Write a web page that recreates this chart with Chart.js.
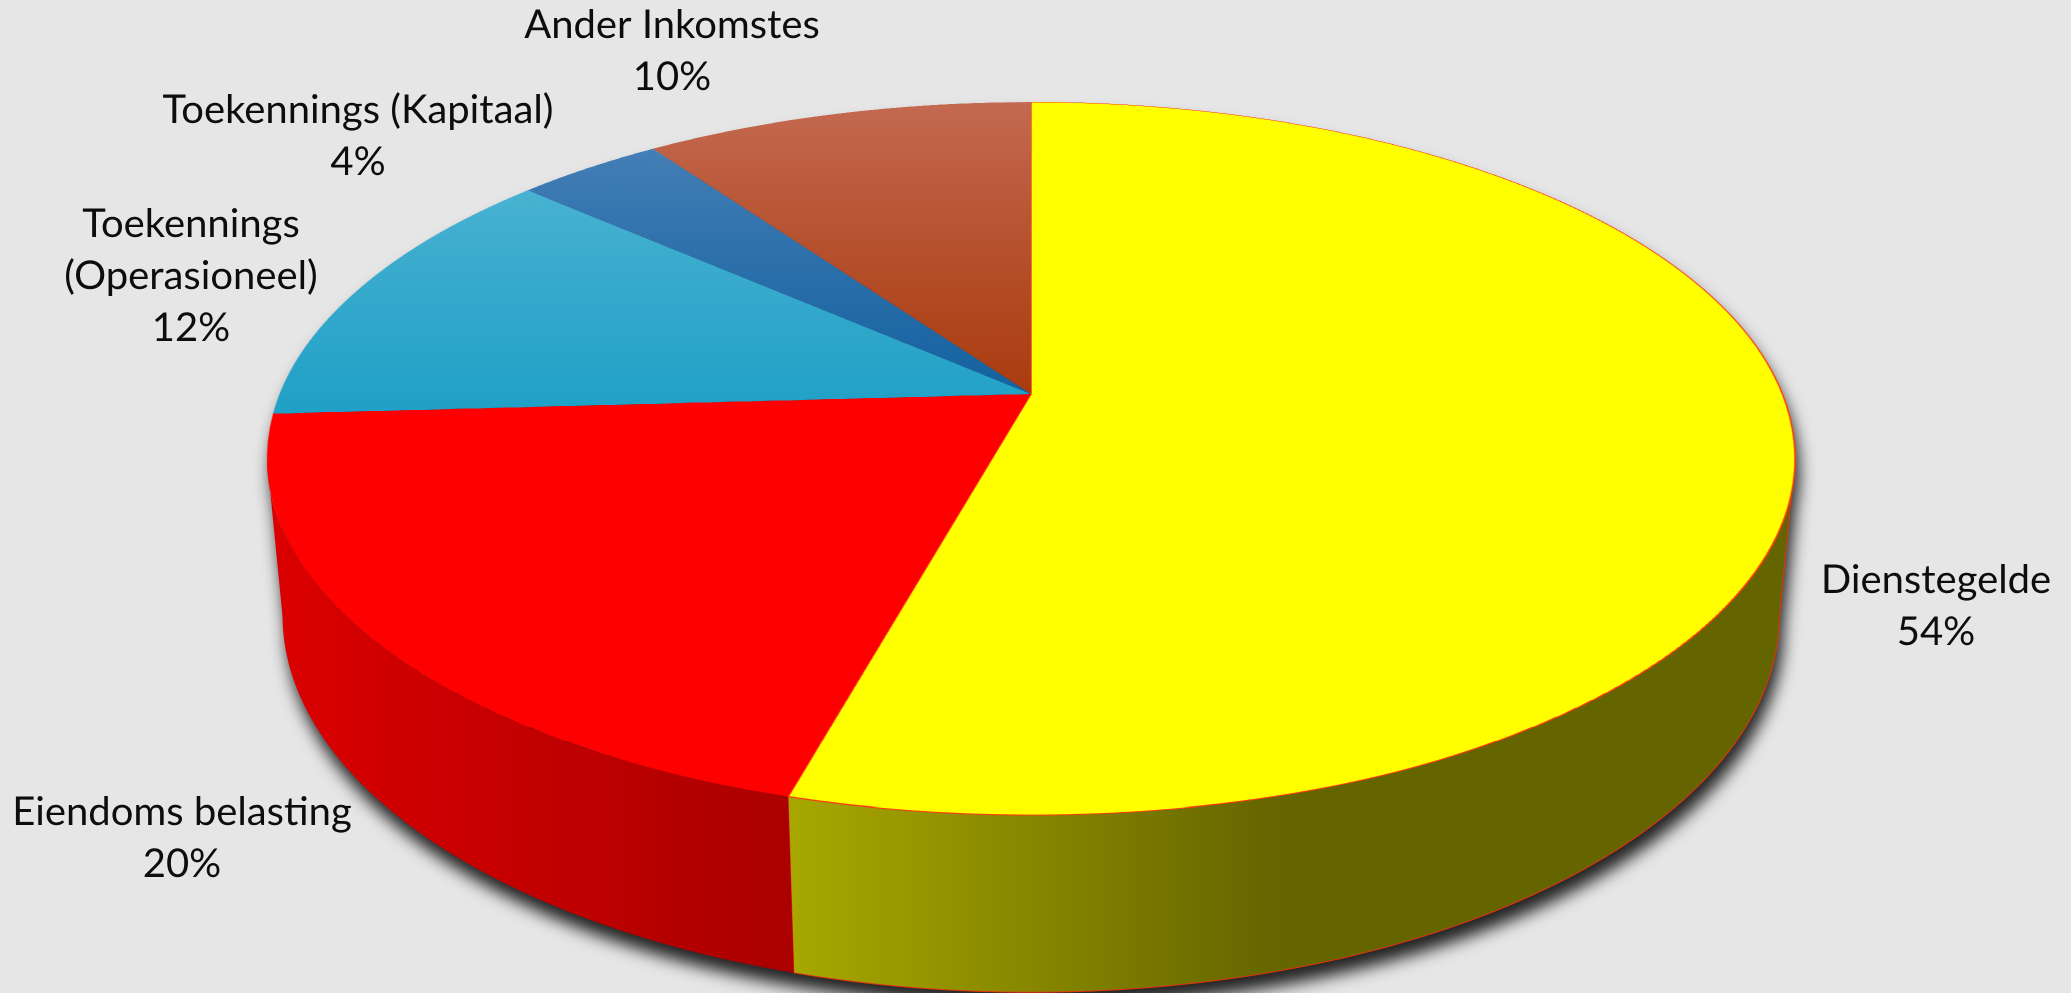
<!DOCTYPE html>
<html><head><meta charset="utf-8">
<script src="https://cdn.jsdelivr.net/npm/chart.js@4.4.1/dist/chart.umd.min.js"></script>
<style>html,body{margin:0;padding:0;background:#e6e6e6;overflow:hidden;}canvas{display:block;}</style>
</head><body>
<canvas id="c" width="2071" height="993"></canvas>
<script>
// ---- data ----
const categories = ['Dienstegelde', 'Eiendoms belasting', 'Toekennings (Operasioneel)', 'Toekennings (Kapitaal)', 'Ander Inkomstes'];
const shares = [54.3, 19.8, 12.4, 3.7, 9.8];

// ---- styles ----
const topLight = ['#ffff00', '#ff0000', '#5cbad6', '#4f85bb', '#c46a52'];
const topDark  = ['#ffff00', '#ff0000', '#1fa0c7', '#0f5f9e', '#a8380a'];
const borderCols = ['#ff3c10', '#ff0000', '#2aa5c9', '#1f6aa8', '#b44a26'];
const borderWidths = [1, 0, 0, 0, 0];
const wallStops = [
  [[0, '#a8a800'], [0.48, '#666600'], [1, '#646400']],
  [[0, '#dc0000'], [1, '#aa0000']],
  [[0, '#1a8ab0'], [1, '#15799b']],
  [[0, '#0c4f85'], [1, '#0a4473']],
  [[0, '#93300a'], [1, '#842a08']]
];
const wallEdge = ['#e8300c', null, null, null, null];

// label layout (centre x, first baseline y), line height
const labelLayout = [
  {x: 1936, y: 593},
  {x: 182, y: 825},
  {x: 191, y: 237, wrap: true},
  {x: 358, y: 123},
  {x: 672, y: 38}
];
const LINE_H = 52;

// perspective of the disc: apex, vertical/horizontal semi-axes, perspective factor, wall depth
const P = {cx: 1031, cy: 394, a: 344.8, b: 0.181, c: 751.4, e: 157.2, g: 0.0201};
function proj(t, h) {
  const u = Math.cos(t), v = Math.sin(t);
  const w = 1 - P.b * v + P.g * h;
  return [P.cx + P.c * u / w, P.cy + (P.a * v + P.e * h) / w];
}

function topFill(c) {
  const i = c.dataIndex;
  const chart = c.chart;
  const ca = chart.chartArea;
  if (!ca || topLight[i] === topDark[i]) return topLight[i];
  const y0 = (ca.top + ca.bottom) / 2;
  const R = Math.min(ca.right - ca.left, ca.bottom - ca.top) / 2;
  const g = chart.ctx.createLinearGradient(0, y0 - R, 0, y0 + 0.08 * R);
  g.addColorStop(0, topLight[i]);
  g.addColorStop(1, topDark[i]);
  return g;
}

const pie3d = {
  id: 'pie3d',
  afterDraw(chart) {
    const canvas = chart.canvas, ctx = chart.ctx, dpr = chart.currentDevicePixelRatio;
    const W = chart.width, H = chart.height;
    const arcs = chart.getDatasetMeta(0).data;
    const x0 = arcs[0].x, y0 = arcs[0].y, R = arcs[0].outerRadius;

    const tmp = document.createElement('canvas');
    tmp.width = canvas.width; tmp.height = canvas.height;
    tmp.getContext('2d').drawImage(canvas, 0, 0);

    ctx.save();
    ctx.setTransform(1, 0, 0, 1, 0, 0);
    ctx.clearRect(0, 0, canvas.width, canvas.height);
    ctx.setTransform(dpr, 0, 0, dpr, 0, 0);
    ctx.fillStyle = '#e6e6e6';
    ctx.fillRect(0, 0, W, H);

    // visible part of the side: between the two silhouette angles
    const lo = Math.asin(P.b), hi = Math.PI - Math.asin(P.b);
    function wallPath(c, s, e) {
      const n = Math.max(4, Math.ceil((e - s) / 0.004));
      c.beginPath();
      for (let k = 0; k <= n; k++) { const p = proj(s + (e - s) * k / n, 0); k ? c.lineTo(p[0], p[1]) : c.moveTo(p[0], p[1]); }
      for (let k = n; k >= 0; k--) { const p = proj(s + (e - s) * k / n, 1); c.lineTo(p[0], p[1]); }
      c.closePath();
    }
    function topPath(c) {
      c.beginPath();
      for (let k = 0; k <= 720; k++) { const p = proj(k / 720 * 2 * Math.PI, 0); k ? c.lineTo(p[0], p[1]) : c.moveTo(p[0], p[1]); }
      c.closePath();
    }

    // drop shadow of the solid
    const sil = document.createElement('canvas');
    sil.width = canvas.width; sil.height = canvas.height;
    const sc = sil.getContext('2d');
    sc.setTransform(dpr, 0, 0, dpr, 0, 0);
    sc.fillStyle = '#000';
    topPath(sc); sc.fill();
    wallPath(sc, lo, hi); sc.fill();
    ctx.setTransform(1, 0, 0, 1, 0, 0);
    ctx.filter = 'blur(' + (8 * dpr) + 'px)';
    ctx.globalAlpha = 0.85;
    ctx.drawImage(sil, 4 * dpr, 14 * dpr);
    ctx.filter = 'none';
    ctx.globalAlpha = 1;

    // side walls from each arc element's angles
    ctx.setTransform(dpr, 0, 0, dpr, 0, 0);
    arcs.forEach((arc, i) => {
      const s = Math.max(arc.startAngle, lo), e = Math.min(arc.endAngle, hi);
      if (e <= s) return;
      let xmin = Infinity, xmax = -Infinity;
      for (let k = 0; k <= 100; k++) { const p = proj(s + (e - s) * k / 100, 0); xmin = Math.min(xmin, p[0]); xmax = Math.max(xmax, p[0]); }
      const g = ctx.createLinearGradient(xmin, 0, xmax, 0);
      wallStops[i].forEach(st => g.addColorStop(st[0], st[1]));
      wallPath(ctx, s, e);
      ctx.fillStyle = g;
      ctx.fill();
      if (wallEdge[i]) { ctx.strokeStyle = wallEdge[i]; ctx.lineWidth = 1; ctx.lineJoin = 'round'; ctx.stroke(); }
    });

    // top face: perspective re-projection of the pie drawn by Chart.js, row by row
    ctx.setTransform(1, 0, 0, 1, 0, 0);
    ctx.imageSmoothingEnabled = true;
    ctx.imageSmoothingQuality = 'high';
    const yTop = Math.floor((P.cy - P.a / (1 + P.b)) * dpr) - 3;
    const yBot = Math.ceil((P.cy + P.a / (1 - P.b)) * dpr) + 3;
    for (let dy = yTop; dy <= yBot; dy++) {
      const Y = (dy + 0.5) / dpr - P.cy;
      const v = Y / (P.a + P.b * Y);
      if (v < -1.01 || v > 1.01) continue;
      const s = P.c / ((1 - P.b * v) * R);
      const sy = Math.floor((y0 + v * R) * dpr);
      if (sy < 0 || sy >= tmp.height) continue;
      const sx = (x0 - R - 3) * dpr, sw = (2 * R + 6) * dpr;
      const dx = (P.cx - (R + 3) * s) * dpr, dw = (2 * R + 6) * s * dpr;
      ctx.drawImage(tmp, sx, sy, sw, 1, dx, dy, dw, 1);
    }

    // labels
    ctx.setTransform(dpr, 0, 0, dpr, 0, 0);
    ctx.fillStyle = '#0d0d0d';
    ctx.font = '40px Lato';
    ctx.textAlign = 'center';
    ctx.textBaseline = 'alphabetic';
    const vals = chart.data.datasets[0].data;
    const total = vals.reduce((p, q) => p + q, 0);
    labelLayout.forEach((L, i) => {
      const name = chart.data.labels[i];
      const lines = L.wrap ? name.split(' ') : [name];
      lines.push(Math.round(vals[i] / total * 100) + '%');
      lines.forEach((str, k) => ctx.fillText(str, L.x, L.y + k * LINE_H));
    });
    ctx.restore();
  }
};

new Chart(document.getElementById('c'), {
  type: 'pie',
  data: {
    labels: categories,
    datasets: [{
      data: shares,
      backgroundColor: topFill,
      borderColor: borderCols,
      borderWidth: borderWidths
    }]
  },
  options: {
    responsive: false,
    animation: false,
    devicePixelRatio: 2,
    events: [],
    layout: {padding: 0},
    plugins: {legend: {display: false}, tooltip: {enabled: false}}
  },
  plugins: [pie3d]
});
</script>
</body></html>
